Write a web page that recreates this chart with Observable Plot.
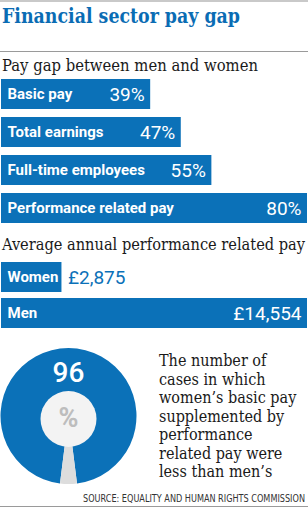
<!DOCTYPE html>
<html><head><meta charset="utf-8">
<script src="https://cdn.jsdelivr.net/npm/d3@7"></script>
<script src="https://cdn.jsdelivr.net/npm/@observablehq/plot@0.6"></script>
<style>
html,body{margin:0;padding:0;background:#fff;}
#root{position:relative;width:308px;height:509px;overflow:hidden;font-family:Roboto,sans-serif;}
.abs{position:absolute;}
.topbar{left:0;top:0;width:308px;height:2px;background:#c9c9c9;}
.rule{left:0;width:308px;height:1px;background:#9a9a9a;}
.desc{left:159px;top:352px;font-family:"DejaVu Serif";font-stretch:condensed;font-size:16px;line-height:18.5px;color:#1a1a1a;white-space:pre;}
</style>
</head><body><div id="root"></div>
<script>
// ---- data ----
const titleText = "Financial sector pay gap";
const subtitle1 = "Pay gap between men and women";
const payCategories = ["Basic pay", "Total earnings", "Full-time employees", "Performance related pay"];
const payGapValues = [39, 47, 55, 80];
const subtitle2 = "Average annual performance related pay";
const genders = ["Women", "Men"];
const perfPayValues = [2875, 14554];
const shareLabel = "96";
const shareValues = [96, 4];
const descriptionLines = ["The number of", "cases in which", "women\u2019s basic pay", "supplemented by", "performance", "related pay were", "less than men\u2019s"];
const source = "SOURCE: EQUALITY AND HUMAN RIGHTS COMMISSION";

const BLUE = "#0b71b8";
const root = document.getElementById("root");
function add(cls, top, text) {
  const d = document.createElement("div");
  d.className = "abs " + cls;
  if (top != null) d.style.top = top + "px";
  if (text != null) d.textContent = text;
  root.appendChild(d);
  return d;
}
// a line of text drawn at a fixed width (SVG textLength)
function line(text, {x, baseline, length, anchor = "start", family, size, weight = "normal", fill, stretch = "normal"}) {
  const svg = d3.create("svg").attr("width", 308).attr("height", size * 1.6)
    .style("position", "absolute").style("left", "0px").style("top", (baseline - size * 1.2) + "px").style("overflow", "visible");
  svg.append("text").attr("x", x).attr("y", size * 1.2).attr("text-anchor", anchor)
    .attr("font-family", family).attr("font-size", size).attr("font-weight", weight).attr("fill", fill)
    .style("font-stretch", stretch)
    .attr("textLength", length).attr("lengthAdjust", "spacingAndGlyphs").text(text);
  root.appendChild(svg.node());
}
function place(el, top) {
  const w = document.createElement("div");
  w.className = "abs";
  w.style.left = "0px"; w.style.top = top + "px";
  w.appendChild(el);
  root.appendChild(w);
}

add("topbar");
line(titleText, {x: 2, baseline: 23, length: 238, family: "DejaVu Serif", size: 20, weight: "bold", fill: "#0a6cb4", stretch: "condensed"});
add("rule", 51);
line(subtitle1, {x: 2, baseline: 71, length: 256, family: "DejaVu Serif", size: 17, fill: "#1a1a1a", stretch: "condensed"});

// ---- pay gap bars ----
const gapData = payCategories.map((c, i) => ({category: c, value: payGapValues[i]}));
place(Plot.plot({
  width: 308, height: 144, margin: 0,
  style: {background: "transparent", overflow: "visible"},
  x: {domain: [0, 80], range: [1, 307], axis: null},
  y: {domain: payCategories, range: [0, 144], paddingInner: 8 / 38, paddingOuter: 0, axis: null},
  marks: [
    Plot.barX(gapData, {x: "value", y: "category", fill: BLUE}),
    Plot.text(gapData, {x: 0, y: "category", text: "category", textAnchor: "start", dx: 6, fill: "white", fontWeight: "bold", fontSize: 15, fontFamily: "Roboto"}),
    Plot.text(gapData, {x: "value", y: "category", text: d => d.value + "%", textAnchor: "end", dx: -6, fill: "white", fontSize: 19, fontFamily: "Roboto"})
  ]
}), 79);

line(subtitle2, {x: 2, baseline: 250, length: 303, family: "DejaVu Serif", size: 16, fill: "#1a1a1a", stretch: "condensed"});

// ---- performance related pay ----
const perfData = genders.map((g, i) => ({gender: g, value: perfPayValues[i]}));
const fmt = v => "\u00a3" + d3.format(",")(v);
const maxPerf = d3.max(perfPayValues);
place(Plot.plot({
  width: 308, height: 66, margin: 0,
  style: {background: "transparent", overflow: "visible"},
  x: {domain: [0, maxPerf], range: [1, 307], axis: null},
  y: {domain: genders, range: [0, 66], paddingInner: 1 / 6, paddingOuter: 0, axis: null},
  marks: [
    Plot.barX(perfData, {x: "value", y: "gender", fill: BLUE}),
    Plot.text(perfData, {x: 0, y: "gender", text: "gender", textAnchor: "start", dx: 6, fill: "white", fontWeight: "bold", fontSize: 15, fontFamily: "Roboto"}),
    Plot.text(perfData.filter(d => d.value < maxPerf / 2), {x: "value", y: "gender", text: d => fmt(d.value), textAnchor: "start", dx: 6, fill: BLUE, fontSize: 19, fontFamily: "Roboto"}),
    Plot.text(perfData.filter(d => d.value >= maxPerf / 2), {x: "value", y: "gender", text: d => fmt(d.value), textAnchor: "end", dx: -6, fill: "white", fontSize: 19, fontFamily: "Roboto"})
  ]
}), 262);

// ---- donut ----
const donut = () => {
  const cx = 68.5, cy = 76, R = 68;
  const g = d3.create("svg:g").attr("transform", `translate(${cx},${cy})`);
  const a = shareValues[1] / d3.sum(shareValues) * 2 * Math.PI;
  const arcs = d3.pie().sort(null).startAngle(Math.PI + a / 2).endAngle(3 * Math.PI + a / 2)(shareValues);
  g.selectAll("path").data(arcs).join("path")
    .attr("d", d3.arc().innerRadius(0).outerRadius(R))
    .attr("fill", (d, i) => [BLUE, "#dddddd"][i]);
  g.append("circle").attr("cy", 3).attr("r", 28).attr("fill", "#f3f3f3");
  g.append("text").attr("y", -34).attr("text-anchor", "middle").attr("fill", "white")
    .attr("font-family", "Roboto").attr("font-weight", 500).attr("font-size", 28).text(shareLabel);
  g.append("text").attr("y", 11).attr("text-anchor", "middle").attr("fill", "#bdbdbd")
    .attr("font-family", "Roboto").attr("font-weight", "bold").attr("font-size", 27).text("%");
  return g.node();
};
place(Plot.plot({
  width: 150, height: 150, margin: 0,
  style: {background: "transparent", overflow: "visible"},
  marks: [donut]
}), 340);

add("desc", null, descriptionLines.join("\n"));
line(source, {x: 305, baseline: 502, length: 222, anchor: "end", family: "DejaVu Sans", size: 11, fill: "#333", stretch: "condensed"});
add("rule", 506);
</script>
</body></html>
